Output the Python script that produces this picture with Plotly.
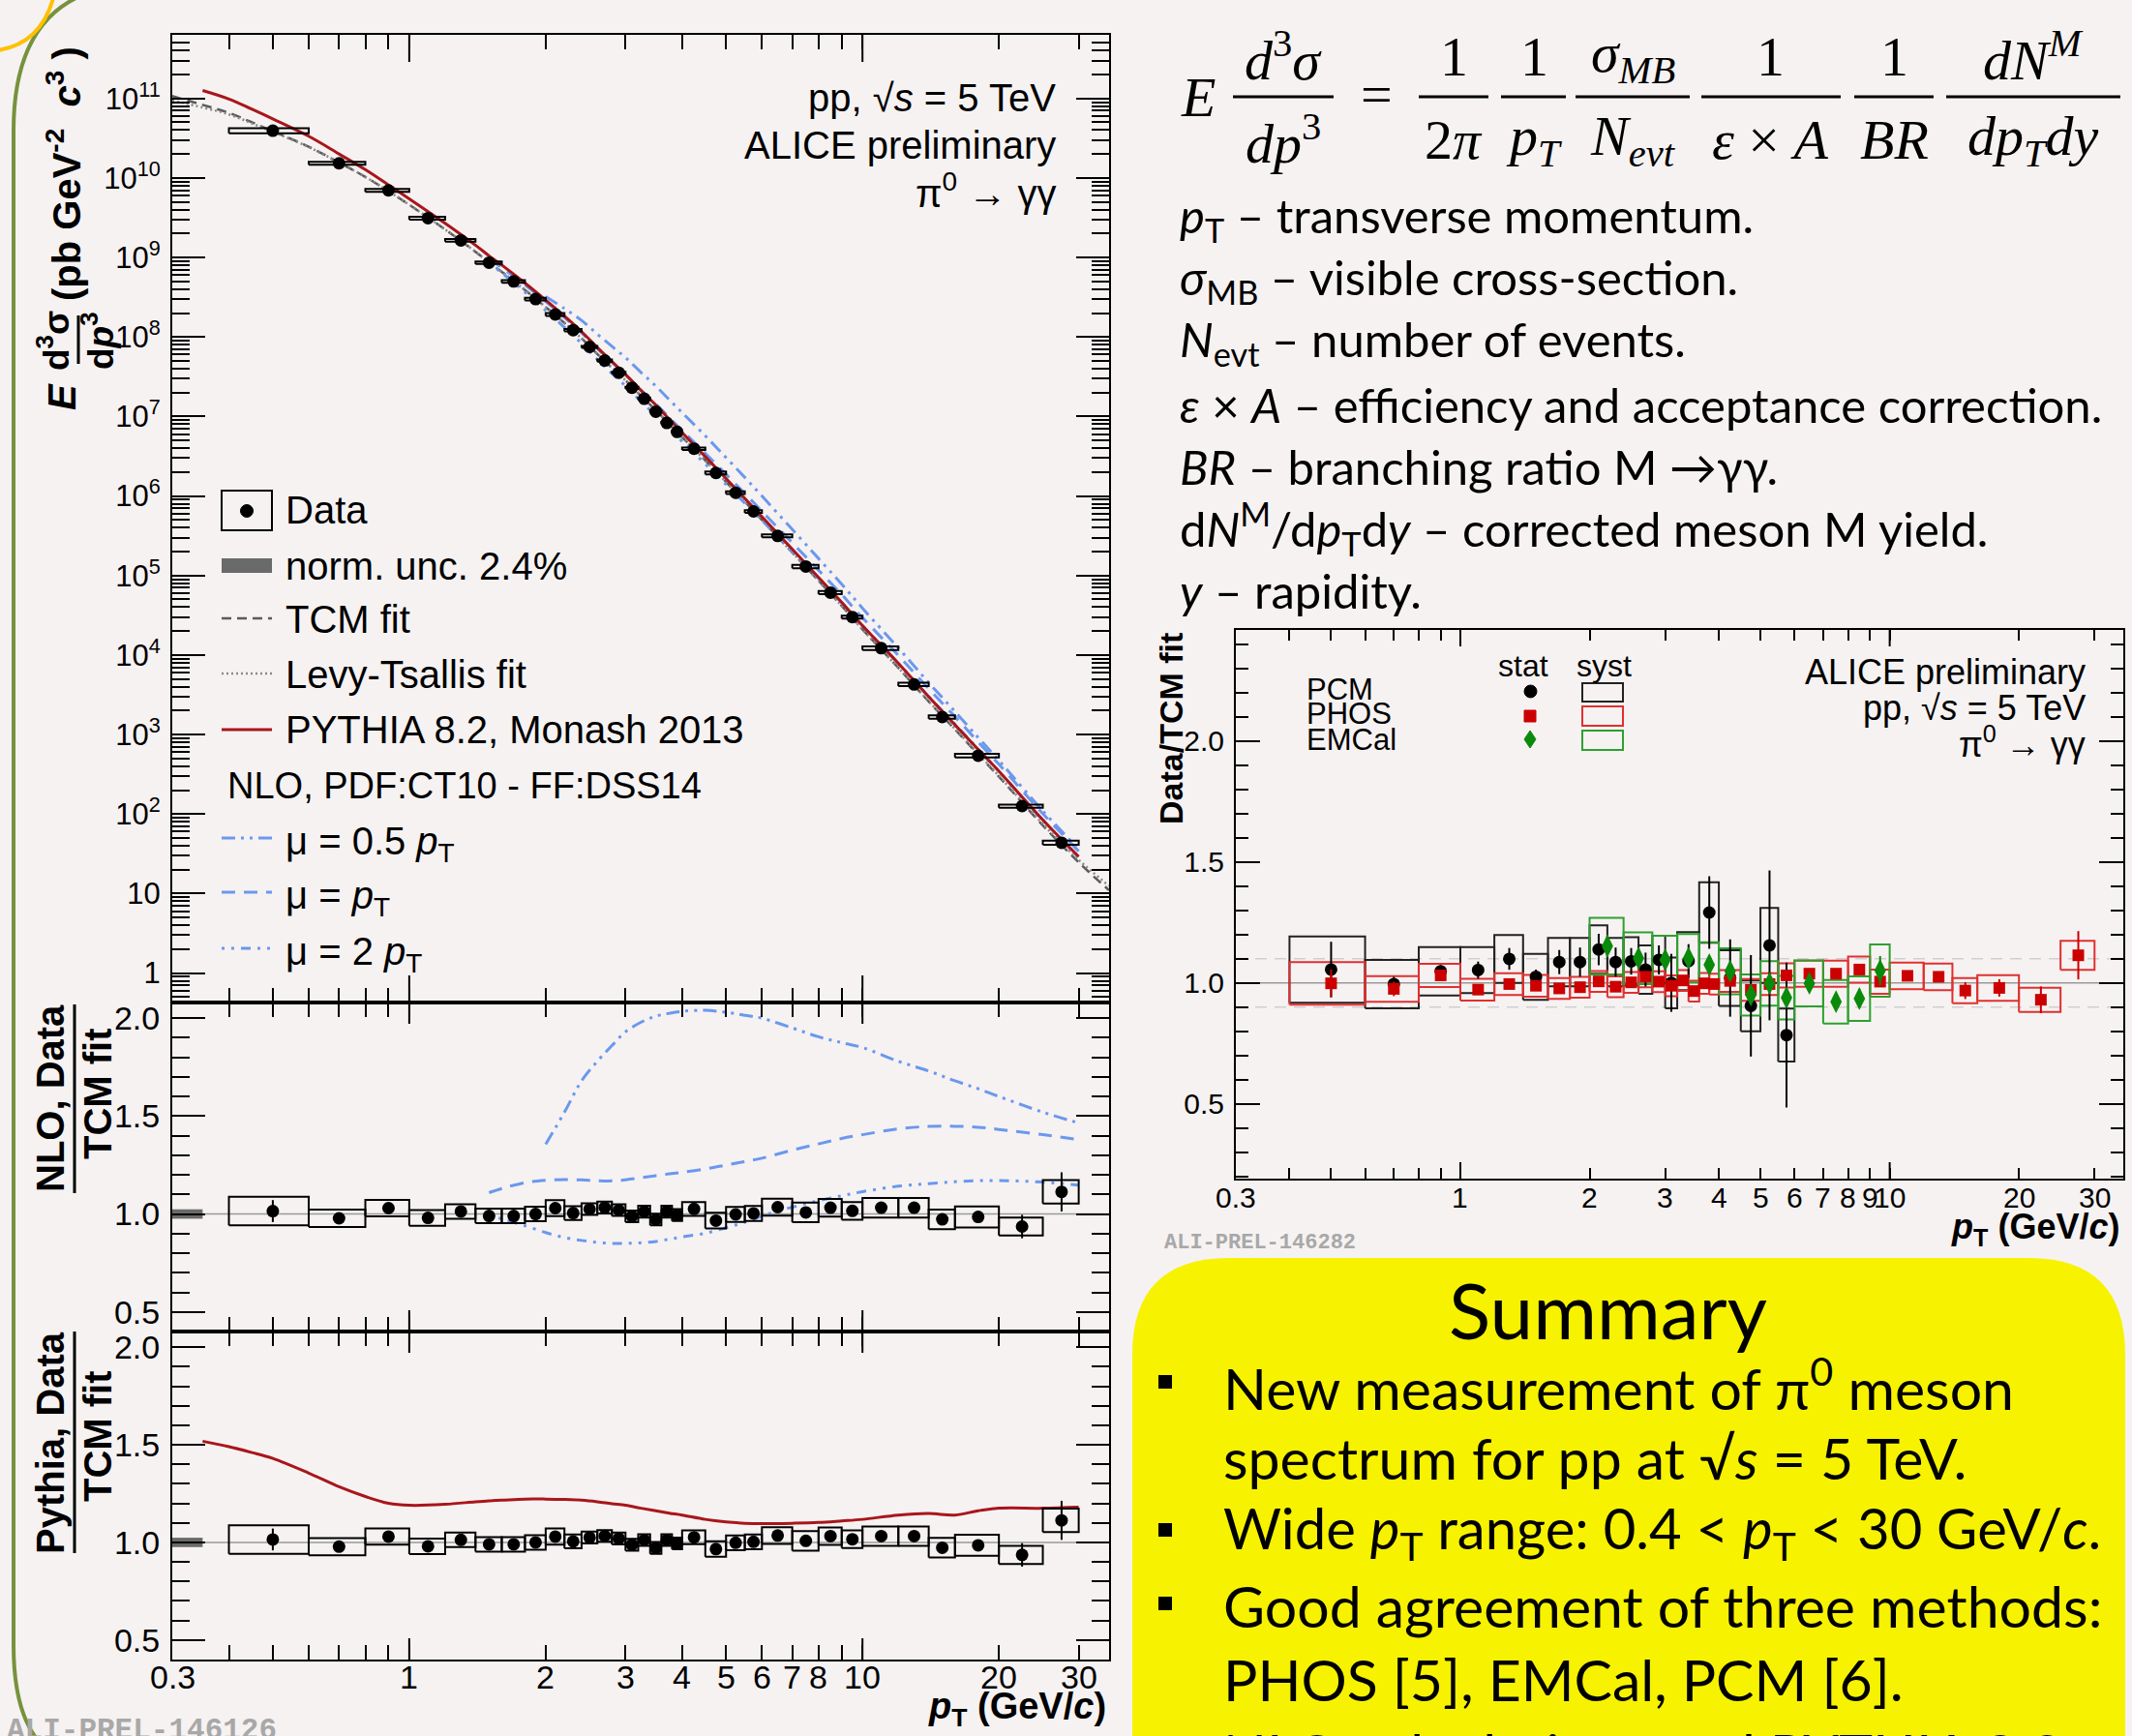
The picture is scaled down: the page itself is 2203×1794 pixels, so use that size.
import math
import plotly.graph_objects as go

W, H = 2203, 1794
BG = "#f6f2f2"
FONT = "Liberation Sans, Arial, sans-serif"
SERIF = "Liberation Serif, Times New Roman, serif"
SLIDE = "Lato, Open Sans, sans-serif"
MONO = "Liberation Mono, DejaVu Sans Mono, monospace"

# ---------------- data: combined pi0 spectrum (left figure) ----------------
pt_lo = [0.4, 0.6, 0.8, 1.0, 1.2, 1.4, 1.6, 1.8, 2.0, 2.2, 2.4, 2.6, 2.8, 3.0, 3.2, 3.4,
         3.6, 3.8, 4.0, 4.5, 5.0, 5.5, 6.0, 7.0, 8.0, 9.0, 10.0, 12.0, 14.0, 16.0, 20.0, 25.0]
pt_hi = [0.6, 0.8, 1.0, 1.2, 1.4, 1.6, 1.8, 2.0, 2.2, 2.4, 2.6, 2.8, 3.0, 3.2, 3.4, 3.6,
         3.8, 4.0, 4.5, 5.0, 5.5, 6.0, 7.0, 8.0, 9.0, 10.0, 12.0, 14.0, 16.0, 20.0, 25.0, 30.0]
pt_c = [0.5, 0.7, 0.9, 1.1, 1.3, 1.5, 1.7, 1.9, 2.1, 2.3, 2.5, 2.7, 2.9, 3.1, 3.3, 3.5,
        3.7, 3.9, 4.25, 4.75, 5.25, 5.75, 6.5, 7.5, 8.5, 9.5, 11.0, 13.0, 15.0, 18.0, 22.5, 27.5]
spectrum = [3.93e10, 1.53e10, 6.98e9, 3.12e9, 1.64e9, 8.6e8, 5.0e8, 3.0e8, 1.92e8, 1.22e8,
            7.5e7, 5.06e7, 3.55e7, 2.3e7, 1.67e7, 1.15e7, 8.3e6, 6.4e6, 3.94e6, 1.95e6,
            1.1e6, 6.4e5, 3.15e5, 1.3e5, 6.1e4, 3.0e4, 1.22e4, 4.27e3, 1.66e3, 543, 126, 43.6]
ratio_tcm = [1.015, 0.978, 1.03, 0.98, 1.013, 0.99, 0.99, 1.0, 1.03, 1.005, 1.025, 1.033,
             1.02, 0.988, 1.012, 0.972, 1.012, 0.995, 1.026, 0.966, 0.998, 1.003, 1.035,
             1.008, 1.032, 1.016, 1.032, 1.032, 0.973, 0.985, 0.936, 1.113]
rel_syst = [0.073, 0.044, 0.042, 0.04, 0.037, 0.037, 0.037, 0.037, 0.041, 0.035, 0.03, 0.03,
            0.03, 0.03, 0.03, 0.03, 0.03, 0.03, 0.035, 0.04, 0.038, 0.038, 0.043, 0.05,
            0.045, 0.045, 0.05, 0.05, 0.05, 0.054, 0.046, 0.06]
rel_stat = [0.056, 0.02, 0.015, 0.015, 0.015, 0.01, 0.01, 0.01, 0.01, 0.01, 0.01, 0.01,
            0.01, 0.01, 0.01, 0.01, 0.01, 0.01, 0.01, 0.01, 0.01, 0.01, 0.012, 0.012,
            0.012, 0.015, 0.015, 0.015, 0.02, 0.02, 0.06, 0.1]
norm_unc = 0.024

# ---------------- curves (fits and models) ----------------
pt_curve = [0.3, 0.35, 0.4, 0.45, 0.5, 0.6, 0.7, 0.8, 0.9, 1.0, 1.2, 1.4, 1.5, 1.6, 1.8,
            2.0, 2.2, 2.4, 2.6, 2.8, 3.0, 3.25, 3.5, 3.75, 4.0, 4.5, 5.0, 5.5, 6.0, 7.0,
            8.0, 9.0, 10.0, 12.0, 14.0, 16.0, 18.0, 20.0, 25.0, 30.0, 35.0]
tcm_fit = [1.07e11, 8.3e10, 6.6e10, 5.0e10, 3.87e10, 2.47e10, 1.56e10, 1.03e10, 6.8e9, 4.6e9,
           2.25e9, 1.18e9, 8.64e8, 6.6e8, 3.9e8, 2.38e8, 1.5e8, 9.6e7, 6.1e7, 4.1e7, 2.85e7,
           1.8e7, 1.2e7, 8.0e6, 5.5e6, 2.8e6, 1.5e6, 8.5e5, 5.0e5, 1.95e5, 8.6e4, 4.15e4,
           2.1e4, 6.9e3, 2.6e3, 1.16e3, 560, 295, 72, 24.7, 11]
levy_fit = [9.4e10, 7.7e10, 6.3e10, 4.85e10, 3.8e10, 2.45e10, 1.56e10, 1.03e10, 6.8e9, 4.6e9,
            2.25e9, 1.18e9, 8.64e8, 6.6e8, 3.9e8, 2.38e8, 1.5e8, 9.6e7, 6.1e7, 4.1e7, 2.85e7,
            1.8e7, 1.2e7, 8.0e6, 5.5e6, 2.8e6, 1.5e6, 8.5e5, 5.0e5, 1.95e5, 8.6e4, 4.15e4,
            2.1e4, 6.9e3, 2.62e3, 1.18e3, 572, 303, 75, 26.5, 12.5]
pythia_ratio = [None, 1.518, 1.49, 1.46, 1.43, 1.355, 1.285, 1.235, 1.2, 1.19, 1.195, 1.208,
                1.213, 1.216, 1.222, 1.222, 1.22, 1.216, 1.208, 1.198, 1.19, 1.175, 1.162,
                1.15, 1.14, 1.118, 1.105, 1.098, 1.096, 1.098, 1.102, 1.11, 1.118, 1.14,
                1.148, 1.14, 1.162, 1.175, 1.175, 1.18, None]
nlo_half = [None] * 15 + [1.356, 1.52, 1.68, 1.78, 1.86, 1.93, 1.98, 2.01, 2.025, 2.035,
                          2.04, 2.03, 2.015, 2.0, 1.95, 1.905, 1.875, 1.85, 1.78, 1.73,
                          1.68, 1.64, 1.6, 1.52, 1.465, None]
nlo_one = [None] * 12 + [1.109, 1.13, 1.16, 1.172, 1.176, 1.174, 1.17, 1.169, 1.175, 1.185,
                         1.196, 1.205, 1.213, 1.23, 1.25, 1.268, 1.285, 1.326, 1.358, 1.386,
                         1.405, 1.435, 1.447, 1.448, 1.443, 1.432, 1.405, 1.38, None]
nlo_two = [None] * 12 + [0.99, 0.975, 0.94, 0.905, 0.88, 0.865, 0.855, 0.85, 0.85, 0.853,
                         0.86, 0.872, 0.883, 0.902, 0.93, 0.958, 0.99, 1.035, 1.068, 1.093,
                         1.114, 1.142, 1.155, 1.165, 1.17, 1.171, 1.163, 1.147, None]

# ---------------- right figure: three methods / TCM fit ----------------
pcm_lo = [0.4, 0.6, 0.8, 1.0, 1.2, 1.4, 1.6, 1.8, 2.0, 2.2, 2.4, 2.6, 2.8, 3.0, 3.2, 3.6,
          4.0, 4.5, 5.0, 5.5]
pcm_hi = [0.6, 0.8, 1.0, 1.2, 1.4, 1.6, 1.8, 2.0, 2.2, 2.4, 2.6, 2.8, 3.0, 3.2, 3.6, 4.0,
          4.5, 5.0, 5.5, 6.0]
pcm_val = [1.055, 0.995, 1.048, 1.053, 1.099, 1.025, 1.086, 1.086, 1.138, 1.086, 1.089,
           1.055, 1.095, 1.0, 1.09, 1.291, 1.02, 0.905, 1.155, 0.784]
pcm_syst = [0.137, 0.1, 0.1, 0.095, 0.099, 0.095, 0.1, 0.1, 0.1, 0.1, 0.1, 0.1, 0.1, 0.105,
            0.12, 0.125, 0.115, 0.105, 0.155, 0.11]
pcm_stat = [0.115, 0.03, 0.025, 0.035, 0.045, 0.03, 0.05, 0.06, 0.065, 0.06, 0.055, 0.07,
            0.06, 0.12, 0.07, 0.15, 0.16, 0.21, 0.31, 0.3]

phos_val = [0.998, 0.975, 1.031, 0.972, 0.995, 0.988, 0.977, 0.982, 1.006, 0.984, 1.002,
            1.025, 1.005, 0.988, 1.01, 0.966, 0.998, 0.995, 1.008, 0.971, 0.995, 1.031,
            1.038, 1.038, 1.055, 1.005, 1.029, 1.025, 0.968, 0.979, 0.93, 1.114]
phos_syst = [0.088, 0.053, 0.048, 0.045, 0.045, 0.045, 0.043, 0.043, 0.043, 0.043, 0.043,
             0.043, 0.043, 0.043, 0.043, 0.043, 0.043, 0.043, 0.045, 0.045, 0.045, 0.05,
             0.054, 0.054, 0.054, 0.05, 0.055, 0.055, 0.052, 0.053, 0.05, 0.06]
phos_stat = [0.057, 0.03, 0.02, 0.012, 0.01, 0.01, 0.01, 0.01, 0.01, 0.01, 0.01, 0.01, 0.01,
             0.01, 0.01, 0.012, 0.012, 0.012, 0.012, 0.015, 0.015, 0.015, 0.015, 0.015,
             0.015, 0.015, 0.018, 0.02, 0.035, 0.036, 0.055, 0.1]

emc_lo = [2.0, 2.4, 2.8, 3.2, 3.6, 4.0, 4.5, 5.0, 5.5, 6.0, 7.0, 8.0, 9.0]
emc_hi = [2.4, 2.8, 3.2, 3.6, 4.0, 4.5, 5.0, 5.5, 6.0, 7.0, 8.0, 9.0, 10.0]
emc_val = [1.152, 1.102, 1.095, 1.102, 1.075, 1.048, 0.95, 0.998, 0.939, 0.998, 0.922,
           0.935, 1.051]
emc_syst = [0.117, 0.107, 0.1, 0.1, 0.093, 0.095, 0.085, 0.092, 0.09, 0.095, 0.09, 0.092,
            0.108]
emc_stat = [0.045, 0.03, 0.03, 0.03, 0.03, 0.03, 0.035, 0.035, 0.035, 0.03, 0.03, 0.04, 0.06]

# tick positions and labels
x_ticks = [0.3, 0.4, 0.5, 0.6, 0.7, 0.8, 0.9, 1, 2, 3, 4, 5, 6, 7, 8, 9, 10, 20, 30]
x_label_vals_left = [0.3, 1, 2, 3, 4, 5, 6, 7, 8, 10, 20, 30]
x_labels_left = ["0.3", "1", "2", "3", "4", "5", "6", "7", "8", "10", "20", "30"]
x_label_vals_right = [0.3, 1, 2, 3, 4, 5, 6, 7, 8, 9, 10, 20, 30]
x_labels_right = ["0.3", "1", "2", "3", "4", "5", "6", "7", "8", "9", "10", "20", "30"]
y_log_ticks = [1, 10, 1e2, 1e3, 1e4, 1e5, 1e6, 1e7, 1e8, 1e9, 1e10, 1e11]
y_log_labels = ["1", "10", "10<sup>2</sup>", "10<sup>3</sup>", "10<sup>4</sup>",
                "10<sup>5</sup>", "10<sup>6</sup>", "10<sup>7</sup>", "10<sup>8</sup>",
                "10<sup>9</sup>", "10<sup>10</sup>", "10<sup>11</sup>"]
ratio_ticks = [0.5, 1.0, 1.5, 2.0]
ratio_labels = ["0.5", "1.0", "1.5", "2.0"]

# ---------------- colours ----------------
RED = "#a8161b"
BLUE = "#6b98ee"
PHOS_C = "#cc0000"
PHOS_BOX = "#e03030"
EMC_C = "#0a8a0a"
EMC_BOX = "#2ea02e"


def px(x):
    return x / W


def py(y):
    return 1 - y / H


def boxes(lo, hi, val, err, rel=False):
    xs, ys = [], []
    for a, b, v, e in zip(lo, hi, val, err):
        if rel:
            y0, y1 = v * (1 - e), v * (1 + e)
        else:
            y0, y1 = v - e, v + e
        xs += [a, b, b, a, a, None]
        ys += [y0, y0, y1, y1, y0, None]
    return xs, ys


def curve(xv, yv, factor=None):
    xs, ys = [], []
    for i, (a, b) in enumerate(zip(xv, yv)):
        if b is None:
            continue
        if factor is not None:
            if factor[i] is None:
                continue
            b = b * factor[i]
        xs.append(a)
        ys.append(b)
    return xs, ys


fig = go.Figure()

DASH_HALF = "14px,6px,3px,6px,3px,6px"
DASH_ONE = "14px,9px"
DASH_TWO = "3px,7px,3px,7px,10px,7px"

# ---------- main spectrum panel ----------
for yv, col, dash in [(tcm_fit, "#5a5a5a", "10px,6px"), (levy_fit, "#8a8a8a", "2px,3px")]:
    xs, ys = curve(pt_curve, yv)
    fig.add_trace(go.Scatter(x=xs, y=ys, mode="lines",
                             line=dict(color=col, dash=dash, width=2.5, shape="spline"),
                             xaxis="x", yaxis="y"))
for fac, dash in [(nlo_half, DASH_HALF), (nlo_one, DASH_ONE), (nlo_two, DASH_TWO)]:
    xs, ys = curve(pt_curve, tcm_fit, fac)
    fig.add_trace(go.Scatter(x=xs, y=ys, mode="lines",
                             line=dict(color=BLUE, dash=dash, width=3, shape="spline"),
                             xaxis="x", yaxis="y"))
xs, ys = curve(pt_curve, tcm_fit, pythia_ratio)
fig.add_trace(go.Scatter(x=xs, y=ys, mode="lines", line=dict(color=RED, width=3, shape="spline"),
                         xaxis="x", yaxis="y"))
bx, by = boxes(pt_lo, pt_hi, spectrum, rel_syst, rel=True)
fig.add_trace(go.Scatter(x=bx, y=by, mode="lines", line=dict(color="black", width=2),
                         xaxis="x", yaxis="y"))
fig.add_trace(go.Scatter(x=pt_c, y=spectrum, mode="markers",
                         marker=dict(symbol="circle", size=13, color="black"),
                         error_y=dict(type="data", array=[s * e for s, e in zip(spectrum, rel_stat)],
                                      color="black", thickness=2, width=0),
                         xaxis="x", yaxis="y"))

# ---------- ratio panels (NLO and PYTHIA) ----------
for xa, ya in [("x2", "y2"), ("x3", "y3")]:
    fig.add_trace(go.Scatter(x=[0.3, 0.35, 0.35, 0.3, 0.3],
                             y=[1 - norm_unc, 1 - norm_unc, 1 + norm_unc, 1 + norm_unc, 1 - norm_unc],
                             mode="lines", fill="toself", fillcolor="#6a6a6a", line=dict(width=0),
                             xaxis=xa, yaxis=ya))
for fac, dash in [(nlo_half, DASH_HALF), (nlo_one, DASH_ONE), (nlo_two, DASH_TWO)]:
    xs, ys = curve(pt_curve, fac)
    fig.add_trace(go.Scatter(x=xs, y=ys, mode="lines",
                             line=dict(color=BLUE, dash=dash, width=3, shape="spline"),
                             xaxis="x2", yaxis="y2"))
xs, ys = curve(pt_curve, pythia_ratio)
fig.add_trace(go.Scatter(x=xs, y=ys, mode="lines", line=dict(color=RED, width=3, shape="spline"),
                         xaxis="x3", yaxis="y3"))
for xa, ya in [("x2", "y2"), ("x3", "y3")]:
    bx, by = boxes(pt_lo, pt_hi, ratio_tcm, rel_syst)
    fig.add_trace(go.Scatter(x=bx, y=by, mode="lines", line=dict(color="black", width=2),
                             xaxis=xa, yaxis=ya))
    fig.add_trace(go.Scatter(x=pt_c, y=ratio_tcm, mode="markers",
                             marker=dict(symbol="circle", size=13, color="black"),
                             error_y=dict(type="data", array=rel_stat, color="black", thickness=2, width=0),
                             xaxis=xa, yaxis=ya))

# ---------- right figure ----------
pcm_c = [(a + b) / 2 for a, b in zip(pcm_lo, pcm_hi)]
emc_c = [(a + b) / 2 for a, b in zip(emc_lo, emc_hi)]
bx, by = boxes(pcm_lo, pcm_hi, pcm_val, pcm_syst)
fig.add_trace(go.Scatter(x=bx, y=by, mode="lines", line=dict(color="#222222", width=2),
                         xaxis="x4", yaxis="y4"))
bx, by = boxes(pt_lo, pt_hi, phos_val, phos_syst)
fig.add_trace(go.Scatter(x=bx, y=by, mode="lines", line=dict(color=PHOS_BOX, width=2),
                         xaxis="x4", yaxis="y4"))
bx, by = boxes(emc_lo, emc_hi, emc_val, emc_syst)
fig.add_trace(go.Scatter(x=bx, y=by, mode="lines", line=dict(color=EMC_BOX, width=2),
                         xaxis="x4", yaxis="y4"))
fig.add_trace(go.Scatter(x=pcm_c, y=pcm_val, mode="markers",
                         marker=dict(symbol="circle", size=13, color="black"),
                         error_y=dict(type="data", array=pcm_stat, color="black", thickness=2, width=0),
                         xaxis="x4", yaxis="y4"))
fig.add_trace(go.Scatter(x=pt_c, y=phos_val, mode="markers",
                         marker=dict(symbol="square", size=12, color=PHOS_C),
                         error_y=dict(type="data", array=phos_stat, color=PHOS_C, thickness=2, width=0),
                         xaxis="x4", yaxis="y4"))
fig.add_trace(go.Scatter(x=emc_c, y=emc_val, mode="markers",
                         marker=dict(symbol="diamond-tall", size=17, color=EMC_C),
                         error_y=dict(type="data", array=emc_stat, color=EMC_C, thickness=2, width=0),
                         xaxis="x4", yaxis="y4"))

# ---------- axes ----------
LX = [px(178), px(1146)]
tickfont = dict(family=FONT, size=34, color="black")
rfont = dict(family=FONT, size=30, color="black")


def xaxis(dom, anchor, ticklen=15):
    return dict(domain=dom, anchor=anchor, type="log", range=[-0.5229, 1.5441],
                tickmode="array", tickvals=x_ticks, showticklabels=False,
                ticks="inside", ticklen=ticklen, tickwidth=2, tickcolor="black",
                showline=True, linecolor="black", linewidth=2, mirror="allticks",
                showgrid=False, zeroline=False, automargin=False)


def ratio_y(dom, anchor, rng, majlen=34, minlen=18, font=tickfont):
    return dict(domain=dom, anchor=anchor, range=rng, tickmode="array", tickvals=ratio_ticks,
                ticktext=ratio_labels, ticks="inside", ticklen=majlen, tickwidth=2, tickcolor="black",
                minor=dict(dtick=0.1, tick0=0, ticks="inside", ticklen=minlen, tickwidth=2,
                           tickcolor="black", showgrid=False),
                showline=True, linecolor="black", linewidth=2, mirror="allticks",
                showgrid=False, zeroline=False, tickfont=font, ticklabelstandoff=4,
                automargin=False)


log_minor = []
for d in range(-1, 12):
    for k in range(2, 10):
        v = k * 10 ** d
        if 0.42 < v < 6e11:
            log_minor.append(v)

layout = dict(
    width=W, height=H, paper_bgcolor=BG, plot_bgcolor=BG, showlegend=False,
    margin=dict(l=0, r=0, t=0, b=0, pad=0, autoexpand=False),
    xaxis=xaxis(LX, "y"),
    yaxis=dict(domain=[py(1036), py(36)], anchor="x", type="log", range=[-0.37, 11.8],
               tickmode="array", tickvals=y_log_ticks, ticktext=y_log_labels,
               ticks="inside", ticklen=34, tickwidth=2, tickcolor="black",
               minor=dict(tickmode="array", tickvals=log_minor, ticks="inside", ticklen=18,
                          tickwidth=2, tickcolor="black", showgrid=False),
               showline=True, linecolor="black", linewidth=2, mirror="allticks",
               showgrid=False, zeroline=False, tickfont=dict(family=FONT, size=31, color="black"),
               ticklabelstandoff=4, automargin=False),
    xaxis2=xaxis(LX, "y2"),
    yaxis2=ratio_y([py(1376), py(1036)], "x2", [0.40, 2.08]),
    xaxis3=xaxis(LX, "y3"),
    yaxis3=ratio_y([py(1715), py(1376)], "x3", [0.40, 2.08]),
    xaxis4=xaxis([px(1277), px(2194)], "y4", ticklen=11),
    yaxis4=ratio_y([py(1218), py(651)], "x4", [0.19, 2.46], majlen=25, minlen=13, font=rfont),
)
fig.update_layout(**layout)

shapes = []
annotations = []

# decade ticks (longer) at 1 and 10
for xa, yd, frac in [("x", "y", 28 / 1000), ("x2", "y2", 22 / 340), ("x3", "y3", 22 / 339),
                     ("x4", "y4", 17 / 567)]:
    for v in [1, 10]:
        shapes.append(dict(type="line", xref=xa, yref=yd + " domain", x0=v, x1=v, y0=0, y1=frac,
                           line=dict(color="black", width=2)))
        shapes.append(dict(type="line", xref=xa, yref=yd + " domain", x0=v, x1=v, y0=1 - frac, y1=1,
                           line=dict(color="black", width=2)))

# reference lines
for xa, ya in [("x2", "y2"), ("x3", "y3"), ("x4", "y4")]:
    shapes.append(dict(type="line", xref=xa + " domain", yref=ya, x0=0, x1=1, y0=1, y1=1,
                       line=dict(color="#9a9a9a", width=1.5), layer="below"))
for v in [0.9, 1.1]:
    shapes.append(dict(type="line", xref="x4 domain", yref="y4", x0=0, x1=1, y0=v, y1=v,
                       line=dict(color="#cfcfcf", width=1.5, dash="12px,8px"), layer="below"))


def ann(text, x, y, size, xanchor="center", yanchor="middle", color="black", family=FONT, angle=0):
    annotations.append(dict(text=text, x=px(x), y=py(y), xref="paper", yref="paper",
                            xanchor=xanchor, yanchor=yanchor, showarrow=False, textangle=angle,
                            font=dict(size=size, color=color, family=family)))


def pline(x0, y0, x1, y1, color="black", width=2, dash=None):
    ln = dict(color=color, width=width)
    if dash:
        ln["dash"] = dash
    shapes.append(dict(type="line", xref="paper", yref="paper", x0=px(x0), y0=py(y0),
                       x1=px(x1), y1=py(y1), line=ln))


def prect(x0, y0, x1, y1, line="black", fill="rgba(0,0,0,0)", width=2):
    shapes.append(dict(type="rect", xref="paper", yref="paper", x0=px(x0), y0=py(y1),
                       x1=px(x1), y1=py(y0), line=dict(color=line, width=width), fillcolor=fill))


# x tick labels, placed on the axes' own log scale
for v, lab in zip(x_label_vals_left, x_labels_left):
    annotations.append(dict(text=lab, x=math.log10(v), xref="x3", y=py(1733), yref="paper",
                            xanchor="center", yanchor="middle", showarrow=False,
                            font=tickfont))
for v, lab in zip(x_label_vals_right, x_labels_right):
    annotations.append(dict(text=lab, x=math.log10(v), xref="x4", y=py(1237), yref="paper",
                            xanchor="center", yanchor="middle", showarrow=False,
                            font=rfont))

# ---------- left figure texts ----------
ann("pp, √<i>s</i> = 5 TeV", 1093, 101, 40, xanchor="right")
ann("ALICE preliminary", 1093, 150, 40, xanchor="right")
ann("π<sup>0</sup> → γγ", 1093, 197, 40, xanchor="right")

# legend
prect(229, 507, 281, 548)
shapes.append(dict(type="circle", xref="paper", yref="paper", x0=px(248.5), x1=px(261.5),
                   y0=py(534.5), y1=py(521.5), fillcolor="black", line=dict(color="black", width=1)))
prect(229, 577, 281, 592, line="rgba(0,0,0,0)", fill="#6a6a6a", width=0)
pline(229, 639, 281, 639, color="#5a5a5a", width=2.5, dash="10px,6px")
pline(229, 696, 281, 696, color="#8a8a8a", width=2.5, dash="2px,3px")
pline(229, 754, 281, 754, color=RED, width=3)
pline(229, 866, 281, 866, color=BLUE, width=3, dash=DASH_HALF)
pline(229, 922, 281, 922, color=BLUE, width=3, dash=DASH_ONE)
pline(229, 980, 281, 980, color=BLUE, width=3, dash=DASH_TWO)
ann("Data", 293, 527, 40, xanchor="left")
ann("norm. unc. 2.4%", 293, 585, 40, xanchor="left")
ann("TCM fit", 293, 640, 40, xanchor="left")
ann("Levy-Tsallis fit", 293, 697, 40, xanchor="left")
ann("PYTHIA 8.2, Monash 2013", 293, 754, 40, xanchor="left")
ann("NLO, PDF:CT10 - FF:DSS14", 233, 812, 38, xanchor="left")
ann("μ = 0.5 <i>p</i><sub>T</sub>", 293, 872, 40, xanchor="left")
ann("μ = <i>p</i><sub>T</sub>", 293, 928, 40, xanchor="left")
ann("μ = 2 <i>p</i><sub>T</sub>", 293, 986, 40, xanchor="left")

# y titles (rotated)
ann("<b><i>E</i></b>", 64, 410, 40, angle=-90)
ann("<b>d<sup>3</sup>σ</b>", 55, 352, 37, angle=-90)
pline(81, 326, 81, 376, width=3)
ann("<b>d<i>p</i><sup>3</sup></b>", 101, 352, 37, angle=-90)
ann("<b>(pb GeV<sup>-2</sup>  <i>c</i><sup>3</sup> )</b>", 66, 180, 40, angle=-90)

ann("<b>NLO, Data</b>", 52, 1135, 40, angle=-90)
pline(77, 1038, 77, 1233, width=3)
ann("<b>TCM fit</b>", 101, 1130, 40, angle=-90)
ann("<b>Pythia, Data</b>", 52, 1491, 40, angle=-90)
pline(77, 1376, 77, 1605, width=3)
ann("<b>TCM fit</b>", 101, 1484, 40, angle=-90)

ann("<b><i>p</i><sub>T</sub> (GeV/<i>c</i>)</b>", 1145, 1766, 38, xanchor="right")
ann("<b>ALI-PREL-146126</b>", 5, 1788, 31, xanchor="left", color="#a8a8a8", family=MONO)

# ---------- right figure texts ----------
ann("<b>Data/TCM fit</b>", 1210, 652, 34, angle=-90, yanchor="top")
ann("<b><i>p</i><sub>T</sub> (GeV/<i>c</i>)</b>", 2192, 1270, 36, xanchor="right")
ann("<b>ALI-PREL-146282</b>", 1201, 1284, 22, xanchor="left", color="#a8a8a8", family=MONO)
ann("ALICE preliminary", 2157, 695, 36, xanchor="right")
ann("pp, √<i>s</i> = 5 TeV", 2157, 732, 36, xanchor="right")
ann("π<sup>0</sup> → γγ", 2157, 767, 36, xanchor="right")
ann("PCM", 1348, 712, 31, xanchor="left")
ann("PHOS", 1348, 738, 31, xanchor="left")
ann("EMCal", 1348, 764, 31, xanchor="left")
ann("stat", 1574, 688, 32)
ann("syst", 1657, 688, 32)
shapes.append(dict(type="circle", xref="paper", yref="paper", x0=px(1575), x1=px(1588),
                   y0=py(721), y1=py(708), fillcolor="black", line=dict(color="black", width=1)))
prect(1575, 734, 1587, 746, line=PHOS_C, fill=PHOS_C, width=1)
shapes.append(dict(type="path", xref="paper", yref="paper",
                   path="M {a},{b} L {c},{d} L {a},{e} L {f},{d} Z".format(
                       a=px(1581), b=py(755), c=px(1587), d=py(764), e=py(773), f=px(1575)),
                   fillcolor=EMC_C, line=dict(color=EMC_C, width=1)))
prect(1635, 706, 1677, 725, line="#222222")
prect(1635, 730, 1677, 750, line=PHOS_BOX)
prect(1635, 755, 1677, 775, line=EMC_BOX)

# ---------- formula ----------
FS = 58
ann("<i>E</i>", 1238, 100, FS, family=SERIF)
ann("=", 1422, 97, FS, family=SERIF)
frac = [
    (1326, 1274, 1378, "<i>d</i><sup>3</sup><i>σ</i>", "<i>dp</i><sup>3</sup>"),
    (1502, 1466, 1538, "1", "2<i>π</i>"),
    (1585, 1551, 1618, "1", "<i>p<sub>T</sub></i>"),
    (1687, 1628, 1746, "<i>σ<sub>MB</sub></i>", "<i>N<sub>evt</sub></i>"),
    (1830, 1758, 1902, "1", "<i>ε</i> × <i>A</i>"),
    (1957, 1916, 1998, "1", "<i>BR</i>"),
    (2101, 2011, 2191, "<i>dN</i><sup><i>M</i></sup>", "<i>dp<sub>T</sub>dy</i>"),
]
for cx, x0, x1, num, den in frac:
    pline(x0, 100, x1, 100, width=3)
    ann(num, cx, 58, FS, family=SERIF)
    ann(den, cx, 145, FS, family=SERIF)

desc = [
    "<i>p</i><sub>T</sub> – transverse momentum.",
    "<i>σ</i><sub>MB</sub> – visible cross-section.",
    "<i>N</i><sub>evt</sub> – number of events.",
    "<i>ε</i> × <i>A</i> – efficiency and acceptance correction.",
    "<i>BR</i> – branching ratio M →γγ.",
    "d<i>N</i><sup>M</sup>/d<i>p</i><sub>T</sub>d<i>y</i> – corrected meson M yield.",
    "<i>y</i> – rapidity.",
]
for i, t in enumerate(desc):
    ann(t, 1217, 225 + i * 64.2, 49, xanchor="left", family=SLIDE)

# ---------- summary box ----------
R = 100
x0s, x1s, y0s, y1s = 1170, 2196, 1300, 1900
path = ("M {a},{b} L {a},{c} Q {a},{d} {e},{d} L {f},{d} Q {g},{d} {g},{c} L {g},{b} Z").format(
    a=px(x0s), b=py(y1s), c=py(y0s + R), d=py(y0s), e=px(x0s + R), f=px(x1s - R), g=px(x1s))
shapes.append(dict(type="path", xref="paper", yref="paper", path=path, fillcolor="#f7f200",
                   line=dict(width=0), layer="below"))
ann("Summary", 1661, 1353, 80, family=SLIDE)
bul = [
    (1430, "New measurement of π<sup>0</sup> meson", True, 59),
    (1506, "spectrum for pp at √<i>s</i> = 5 TeV.", False, 59),
    (1583, "Wide <i>p</i><sub>T</sub> range: 0.4 &lt; <i>p</i><sub>T</sub> &lt; 30 GeV/<i>c</i>.", True, 58),
    (1659, "Good agreement of three methods:", True, 59),
    (1735, "PHOS [5], EMCal, PCM [6].", False, 59),
    (1812, "NLO calculations and PYTHIA 8.2", True, 59),
]
for y, t, b, fs in bul:
    ann(t, 1262, y, fs, xanchor="left", family=SLIDE)
    if b:
        prect(1197, y - 9, 1211, y + 5, line="black", fill="black", width=0)

# ---------- slide decorations ----------
shapes.append(dict(type="path", xref="paper", yref="paper",
                   path="M {a},{b} Q {c},{d} {c},{e} L {c},{f} Q {c},{g} {h},{i}".format(
                       a=px(85), b=py(-5), c=px(14), d=py(25), e=py(135), f=py(1700),
                       g=py(1775), h=px(45), i=py(1805)),
                   line=dict(color="#76923c", width=4)))
shapes.append(dict(type="path", xref="paper", yref="paper",
                   path="M {a},{b} Q {c},{d} {e},{f}".format(
                       a=px(55), b=py(-2), c=px(42), d=py(45), e=px(-2), f=py(52)),
                   line=dict(color="#ffc000", width=4)))

fig.update_layout(shapes=shapes, annotations=annotations)
fig.write_html("out.html", config={"displayModeBar": False, "staticPlot": False},
               post_script="document.body.style.margin='0px';document.body.style.overflow='hidden';")
